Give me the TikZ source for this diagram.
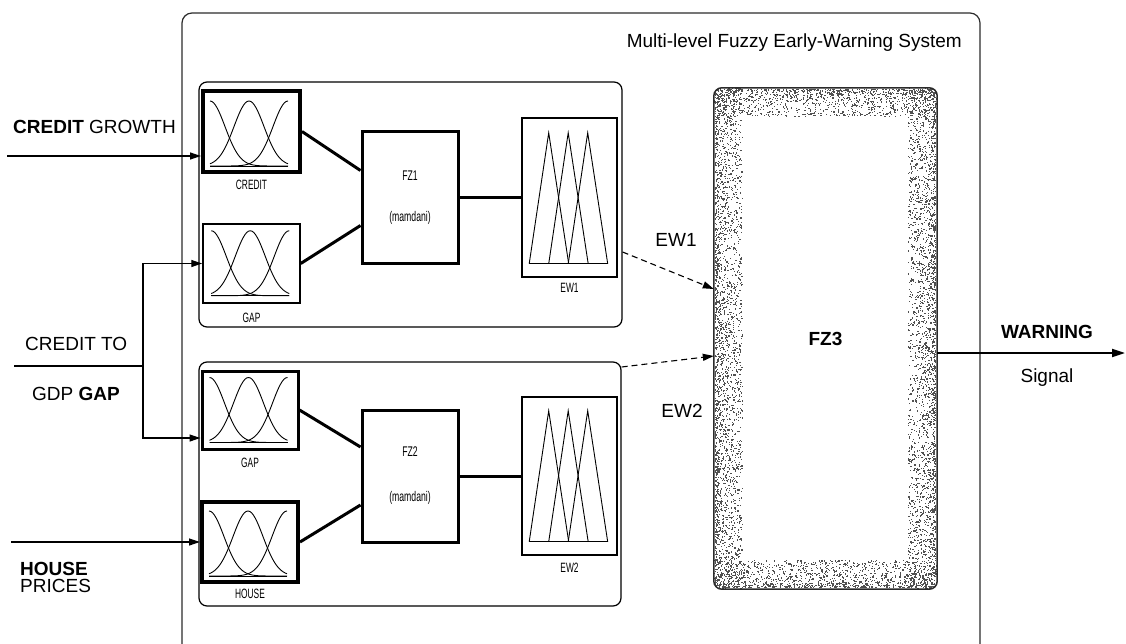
\documentclass[tikz,border=0pt]{standalone}
\usepackage{fontspec}
\setmainfont{Liberation Sans}
\newfontfamily\narrowfont[FakeStretch=0.62]{Liberation Sans}
\usepackage{xcolor}
\usepackage{tikz}
\usetikzlibrary{arrows.meta,positioning,calc}
\definecolor{frame}{HTML}{2B2B2B}
\definecolor{speck}{HTML}{505050}

\tikzset{
  box/.style={draw, inner sep=0pt},
  tag/.style={font=\narrowfont\fontsize{13.5}{16}\selectfont, inner sep=0pt},
  word/.style={font=\fontsize{19}{22}\selectfont, inner sep=0pt},
  link/.style={line width=3pt},
  feed/.style={line width=1.2pt, -{Triangle[length=11pt,width=7pt]}},
  hint/.style={line width=1.1pt, dash pattern=on 6pt off 4pt, -{Triangle[length=11pt,width=7pt]}}
}

% gaussian membership curves, drawn from the box's lower left corner
\newcommand{\gaussmf}[1]{%
  \begin{scope}[shift={(#1.south west)}]
    \foreach \c in {9,48,87} {
      \draw[line width=0.9pt] plot[domain=9:87, samples=45, smooth] (\x,{-8-65*exp(-((\x-\c)^2)/450)});
    }
    \draw[line width=0.9pt] (9,-8) -- (87,-8);
  \end{scope}}

% triangular membership curves of the output boxes
\newcommand{\trimf}[1]{%
  \begin{scope}[shift={(#1.south west)}]
    \foreach \a in {8,27.5,47} {
      \draw[line width=0.9pt] (\a,-14) -- ({\a+19.5},-145) -- ({\a+39.5},-14);
    }
    \draw[line width=0.9pt] (8,-14) -- (87,-14);
  \end{scope}}

\begin{document}
\begin{tikzpicture}[x=1pt, y=-1pt]
  \useasboundingbox (0,0) rectangle (1126,644);

  % ======= outer frame =======
  \begin{scope}
    \clip (0,0) rectangle (1126,644);
    \draw[frame, line width=1.2pt, rounded corners=10pt] (182,13) rectangle (980,670);
  \end{scope}
  \node[word, anchor=base east] (title) at (962,48) {Multi-level Fuzzy Early-Warning System};

  % ======= upper stage (FZ1) =======
  \node[box, line width=1.2pt, rounded corners=8pt, minimum width=423pt, minimum height=245pt] (upper) at (410.5,204.5) {};
  \node[box, line width=4pt, minimum width=97pt, minimum height=81pt] (credit) at (251.5,131.5) {};
  \node[box, line width=1.5pt, minimum width=97pt, minimum height=79pt] (gapA) at (251.5,263.5) {};
  \node[box, line width=3pt, minimum width=96pt, minimum height=131pt, tag, align=center,
        font=\narrowfont\fontsize{14}{41}\selectfont] (fzA) at (410,197.5) {FZ1\\(mamdani)};
  \node[box, line width=1.6pt, minimum width=95pt, minimum height=159pt] (ewA) at (569.5,197.5) {};
  \gaussmf{credit}
  \gaussmf{gapA}
  \trimf{ewA}
  \node[tag] (creditlbl) at (251.5,184.5) {CREDIT};
  \node[tag] (gapAlbl) at (251.5,318) {GAP};
  \node[tag] (ewAlbl) at (569.5,288) {EW1};

  % ======= lower stage (FZ2) =======
  \node[box, line width=1.2pt, rounded corners=8pt, minimum width=422pt, minimum height=244pt] (lower) at (410,484) {};
  \node[box, line width=3pt, minimum width=96pt, minimum height=78pt] (gapB) at (250,410) {};
  \node[box, line width=4pt, minimum width=96pt, minimum height=80pt] (house) at (250,542) {};
  \node[box, line width=3pt, minimum width=96pt, minimum height=132pt, tag, align=center,
        font=\narrowfont\fontsize{14}{45}\selectfont] (fzB) at (410,476) {FZ2\\(mamdani)};
  \node[box, line width=1.6pt, minimum width=95pt, minimum height=158pt] (ewB) at (569.5,476) {};
  \gaussmf{gapB}
  \gaussmf{house}
  \trimf{ewB}
  \node[tag] (gapBlbl) at (250,463) {GAP};
  \node[tag] (houselbl) at (250,594) {HOUSE};
  \node[tag] (ewBlbl) at (569.5,568) {EW2};

  % rule links
  \draw[link] (credit.east) -- ([yshift=27pt]fzA.west);
  \draw[link] (gapA.east) -- ([yshift=-28pt]fzA.west);
  \draw[link] (fzA.east) -- (ewA.west);
  \draw[link] (gapB.east) -- ([yshift=29pt]fzB.west);
  \draw[link] (house.east) -- ([yshift=-29pt]fzB.west);
  \draw[link] (fzB.east) -- (ewB.west);

  % ======= FZ3 (speckled box) =======
  \node[inner sep=0pt, minimum width=223pt, minimum height=501pt, font=\bfseries\fontsize{19}{22}\selectfont] (fz3) at (825.5,338.5) {FZ3};
  \begin{scope}
    \clip[rounded corners=8pt] (fz3.north west) rectangle (fz3.south east);
    \begin{scope}[shift={(fz3.north west)}]
      \pgfmathsetseed{4}
      \foreach \i in {1,...,2400} {
        \pgfmathsetmacro{\dl}{1+27*rnd^1.6}
        \pgfmathsetmacro{\sl}{501*rnd}
        \pgfmathsetmacro{\dr}{221-27*rnd^1.6}
        \pgfmathsetmacro{\sr}{501*rnd}
        \fill[speck] (\dl,\sl) rectangle ++(1.2,1.2);
        \fill[speck] (\dr,\sr) rectangle ++(1.2,1.2);
      }
      \foreach \i in {1,...,1100} {
        \pgfmathsetmacro{\dt}{1+27*rnd^1.6}
        \pgfmathsetmacro{\st}{223*rnd}
        \pgfmathsetmacro{\db}{499-27*rnd^1.6}
        \pgfmathsetmacro{\sb}{223*rnd}
        \fill[speck] (\st,\dt) rectangle ++(1.2,1.2);
        \fill[speck] (\sb,\db) rectangle ++(1.2,1.2);
      }
    \end{scope}
  \end{scope}
  \draw[frame, line width=1.5pt, rounded corners=8pt] (fz3.north west) rectangle (fz3.south east);

  % early-warning signals into FZ3
  \draw[hint] ([yshift=-47.5pt]upper.east) -- ([yshift=49.5pt]fz3.west);
  \draw[hint] ([yshift=117pt]lower.east) -- ([yshift=-17.5pt]fz3.west);
  \node[word, anchor=base] (ewAtxt) at (676,247) {EW1};
  \node[word, anchor=base] (ewBtxt) at (682,417) {EW2};

  % ======= inputs =======
  \node[word, anchor=base west] (growthtxt) at (13,134) {\textbf{CREDIT} GROWTH};
  \node[word, anchor=base west] (gdptxtA) at (25,350) {CREDIT TO};
  \node[word, anchor=base west] (gdptxtB) at (32,400) {GDP \textbf{GAP}};
  \node[word, anchor=base west] (housetxt) at (20,575) {\textbf{HOUSE}};
  \node[word, anchor=base west] (pricetxt) at (20,592) {PRICES};

  \coordinate (growthin) at (7,156);
  \coordinate (gdpin) at (14,366);
  \coordinate (gdpsplit) at (143,366);
  \coordinate (housein) at (11,542);
  \draw[feed] (growthin) -- (growthin -| credit.west);
  \draw[line width=1.2pt] (gdpin) -- (gdpsplit);
  \draw[feed] (gdpsplit) |- (gapA.west);
  \draw[feed] (gdpsplit) |- ([yshift=-28pt]gapB.west);
  \draw[feed] (housein) -- (housein -| house.west);

  % ======= output =======
  \coordinate (warnout) at (1125,353);
  \draw[line width=2pt, -{Triangle[length=13pt,width=8pt]}] ([yshift=-14.5pt]fz3.east) -- (warnout);
  \node[word, anchor=base, font=\bfseries\fontsize{19}{22}\selectfont] (warntxt) at (1047,338) {WARNING};
  \node[word, anchor=base] (signaltxt) at (1047,382) {Signal};
\end{tikzpicture}
\end{document}
